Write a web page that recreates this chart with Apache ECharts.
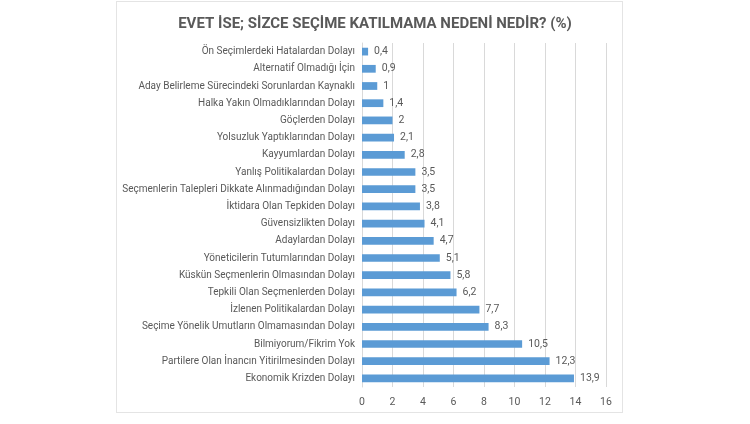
<!DOCTYPE html>
<html><head><meta charset="utf-8">
<script src="https://cdn.jsdelivr.net/npm/echarts@6/dist/echarts.min.js"></script>
<style>html,body{margin:0;padding:0;background:#fff;}#c{width:750px;height:424px;}
#frame{position:absolute;left:116px;top:1px;width:507px;height:412px;border:1px solid #e4e4e4;box-sizing:border-box;pointer-events:none;}</style>
</head><body><div id="c"></div><div id="frame"></div>
<script>
const titleText = 'EVET İSE; SİZCE SEÇİME KATILMAMA NEDENİ NEDİR? (%)';
const categories = [
 'Ön Seçimlerdeki Hatalardan Dolayı',
 'Alternatif Olmadığı İçin',
 'Aday Belirleme Sürecindeki Sorunlardan Kaynaklı',
 'Halka Yakın Olmadıklarından Dolayı',
 'Göçlerden Dolayı',
 'Yolsuzluk Yaptıklarından Dolayı',
 'Kayyumlardan Dolayı',
 'Yanlış Politikalardan Dolayı',
 'Seçmenlerin Talepleri Dikkate Alınmadığından Dolayı',
 'İktidara Olan Tepkiden Dolayı',
 'Güvensizlikten Dolayı',
 'Adaylardan Dolayı',
 'Yöneticilerin Tutumlarından Dolayı',
 'Küskün Seçmenlerin Olmasından Dolayı',
 'Tepkili Olan Seçmenlerden Dolayı',
 'İzlenen Politikalardan Dolayı',
 'Seçime Yönelik Umutların Olmamasından Dolayı',
 'Bilmiyorum/Fikrim Yok',
 'Partilere Olan İnancın Yitirilmesinden Dolayı',
 'Ekonomik Krizden Dolayı'
];
const values = [0.4, 0.9, 1, 1.4, 2, 2.1, 2.8, 3.5, 3.5, 3.8, 4.1, 4.7, 5.1, 5.8, 6.2, 7.7, 8.3, 10.5, 12.3, 13.9];
const axisMin = 0, axisMax = 16, axisStep = 2;

const chart = echarts.init(document.getElementById('c'));
const font = 'Roboto';
chart.setOption({
  animation: false,
  title: { text: titleText, left: 'center', top: 12,
    textStyle: { fontFamily: font, fontSize: 15, fontWeight: 'bold', color: '#595959' } },
  grid: { left: 362, right: 144, top: 43, bottom: 37, containLabel: false },
  xAxis: { type: 'value', min: axisMin, max: axisMax, interval: axisStep,
    axisLine: { show: false }, axisTick: { show: false },
    splitLine: { lineStyle: { color: '#d9d9d9', width: 1 } },
    axisLabel: { fontFamily: font, fontSize: 10.5, color: '#595959', margin: 10 } },
  yAxis: { type: 'category', data: categories, inverse: true,
    axisLine: { show: true, lineStyle: { color: '#d9d9d9' } }, axisTick: { show: false },
    axisLabel: { fontFamily: font, fontSize: 10, color: '#595959', margin: 7 } },
  series: [{ type: 'bar', data: values, barCategoryGap: '55%',
    itemStyle: { color: '#5b9bd5' },
    label: { show: true, position: 'right', distance: 6, fontFamily: font, fontSize: 10.5, color: '#595959',
      formatter: p => String(p.value).replace('.', ',') } }]
});
</script></body></html>
